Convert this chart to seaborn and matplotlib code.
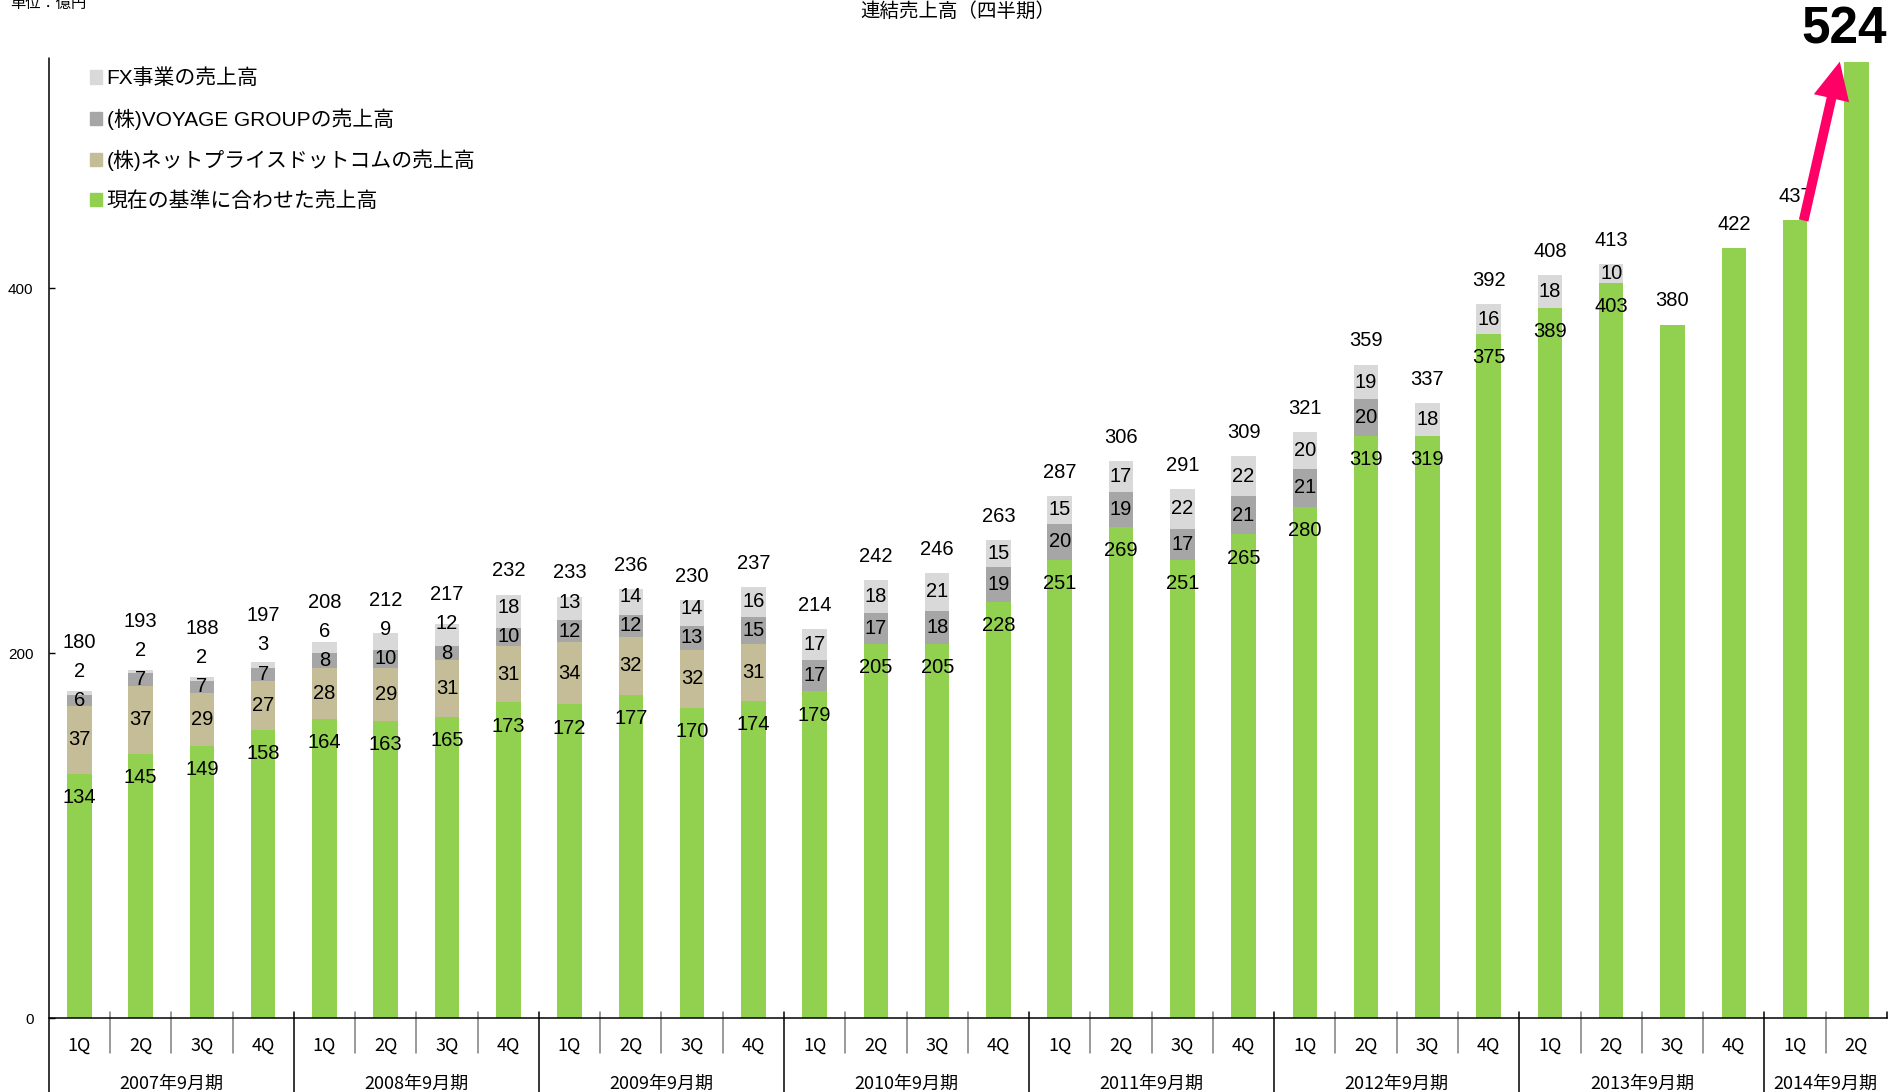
import matplotlib
matplotlib.use('Agg')
import matplotlib.pyplot as plt
from matplotlib.patches import Patch
import seaborn as sns
import numpy as np

# データ（単位：億円）
years = ['2007年9月期', '2008年9月期', '2009年9月期', '2010年9月期',
         '2011年9月期', '2012年9月期', '2013年9月期', '2014年9月期']
year_counts = [4, 4, 4, 4, 4, 4, 4, 2]
quarters = ['1Q', '2Q', '3Q', '4Q'] * 7 + ['1Q', '2Q']

base = [134, 145, 149, 158, 164, 163, 165, 173, 172, 177, 170, 174,
        179, 205, 205, 228, 251, 269, 251, 265, 280, 319, 319, 375,
        389, 403, 380, 422, 437, 524]
netprice = [37, 37, 29, 27, 28, 29, 31, 31, 34, 32, 32, 31,
            0, 0, 0, 0, 0, 0, 0, 0, 0, 0, 0, 0,
            0, 0, 0, 0, 0, 0]
voyage = [6, 7, 7, 7, 8, 10, 8, 10, 12, 12, 13, 15,
          17, 17, 18, 19, 20, 19, 17, 21, 21, 20, 0, 0,
          0, 0, 0, 0, 0, 0]
fx = [2, 2, 2, 3, 6, 9, 12, 18, 13, 14, 14, 16,
      17, 18, 21, 15, 15, 17, 22, 22, 20, 19, 18, 16,
      18, 10, 0, 0, 0, 0]
totals = [180, 193, 188, 197, 208, 212, 217, 232, 233, 236, 230, 237,
          214, 242, 246, 263, 287, 306, 291, 309, 321, 359, 337, 392,
          408, 413, 380, 422, 437, 524]

legend_labels = ['FX事業の売上高', '(株)VOYAGE GROUPの売上高',
                 '(株)ネットプライスドットコムの売上高', '現在の基準に合わせた売上高']
colors = ['#D9D9D9', '#A6A6A6', '#C4BD97', '#92D050']

sns.set_theme(style='white')
plt.rcParams['font.family'] = ['Liberation Sans', 'Noto Sans CJK JP']
plt.rcParams['text.color'] = 'black'

fig = plt.figure(figsize=(19.02, 10.92), dpi=100)
ax = fig.add_axes([0.0256, 0.0675, 0.9665, 0.8794])

idx = np.arange(len(base))
c1 = np.array(base)
c2 = c1 + np.array(netprice)
c3 = c2 + np.array(voyage)
c4 = c3 + np.array(fx)

# 積み上げ（累積値を大きい順に重ねる）
for vals, col in zip([c4, c3, c2, c1], colors):
    sns.barplot(x=idx, y=vals, color=col, width=0.4, linewidth=0,
                saturation=1, errorbar=None, ax=ax)

ax.set_xlim(-0.5, len(base) - 0.5)
ax.set_ylim(0, 526)
ax.set_xlabel('')
ax.set_ylabel('')
ax.set_xticks([])
ax.set_yticks([0, 200, 400])
ax.tick_params(axis='y', left=True, direction='in', length=4, width=1,
               color='black', labelcolor='black', pad=11, labelsize=11)
for s in ['top', 'right', 'left']:
    ax.spines[s].set_visible(False)
ax.spines['bottom'].set_color('black')
ax.spines['bottom'].set_linewidth(1.1)

# 数値ラベル
fs = 14.5
gap = 16
for i in range(len(base)):
    if i == len(base) - 1:
        continue
    parts = [netprice[i], voyage[i], fx[i]]
    if sum(parts) == 0:
        ax.text(i, totals[i] + 13, str(totals[i]), ha='center', va='center', fontsize=fs)
        continue
    prev = base[i] - 13
    ax.text(i, prev, str(base[i]), ha='center', va='center', fontsize=fs)
    bottom = base[i]
    for v in parts:
        if v > 0:
            y = max(bottom + v / 2, prev + gap)
            ax.text(i, y, str(v), ha='center', va='center', fontsize=fs)
            prev = y
            bottom += v
    ty = max(bottom + 13, prev + gap)
    ax.text(i, ty, str(totals[i]), ha='center', va='center', fontsize=fs)

# 最新四半期
last = len(base) - 1
ax.text(last - 0.2, totals[last] + 17.5, str(totals[last]), ha='center', va='center',
        fontsize=37, fontweight='bold', clip_on=False)
ax.annotate('', xy=(last - 0.27, totals[last]), xytext=(last - 1 + 0.14, totals[last - 1]),
            arrowprops=dict(facecolor='#FF0066', edgecolor='none', width=7,
                            headwidth=26, headlength=27, shrink=0),
            annotation_clip=False)

# 横軸（四半期・年度）
xt = ax.get_xaxis_transform()
for i, q in enumerate(quarters):
    ax.text(i, -0.0281, q, transform=xt, ha='center', va='center', fontsize=13,
            family=['Noto Sans CJK JP'])
ends = np.cumsum(year_counts)
starts = ends - np.array(year_counts)
for y, s, e in zip(years, starts, ends):
    ax.text((s + e - 1) / 2, -0.0687, y, transform=xt, ha='center', va='center',
            fontsize=13, family=['Noto Sans CJK JP'])
for b in range(1, len(base)):
    if b in ends:
        ax.axvline(b - 0.5, ymin=-0.08, ymax=0.0063, color='black', lw=1.1, clip_on=False)
    else:
        ax.axvline(b - 0.5, ymin=-0.0364, ymax=0.0063, color='#7F7F7F', lw=1.1, clip_on=False)
ax.axvline(len(base) - 0.5, ymin=0, ymax=0.0063, color='black', lw=1.1, clip_on=False)
ax.axvline(-0.5, ymin=-0.08, ymax=1, color='black', lw=1.1, clip_on=False)

# 凡例
handles = [Patch(color=c) for c in colors]
ax.legend(handles, legend_labels, loc='upper left', bbox_to_anchor=(0.0473, 0.9372),
          bbox_transform=fig.transFigure, frameon=False, fontsize=15,
          handlelength=0.6, handleheight=0.6, handletextpad=0.2,
          labelspacing=0.95, borderpad=0, borderaxespad=0)

fig.text(0.5037, 1 - 11 / 1092, '連結売上高（四半期）', ha='center', va='center', fontsize=14)
fig.text(10 / 1902, 1 - 4 / 1092, '単位：億円', ha='left', va='center', fontsize=11)

fig.savefig('out.png', dpi=100)
